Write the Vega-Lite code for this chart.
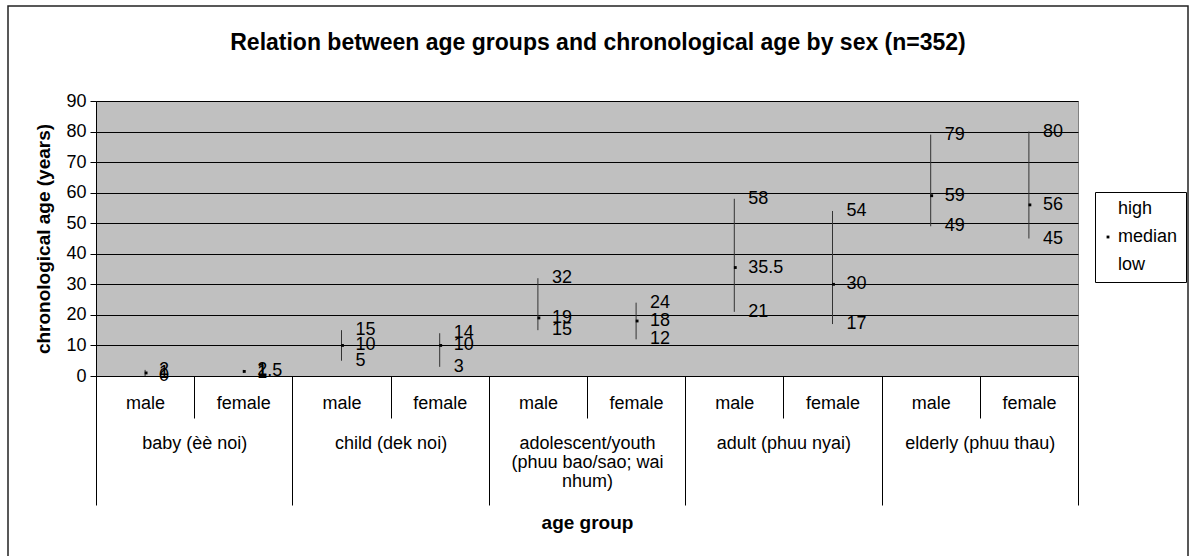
{
  "$schema": "https://vega.github.io/schema/vega-lite/v6.json",
  "width": 982,
  "height": 275,
  "autosize": {"type": "none"},
  "padding": {"left": 96, "top": 101, "right": 117, "bottom": 180},
  "background": "white",
  "title": {
    "text": "Relation between age groups and chronological age by sex (n=352)",
    "font": "Liberation Sans",
    "fontSize": 23,
    "fontWeight": "bold",
    "color": "black",
    "frame": "group",
    "anchor": "middle",
    "baseline": "middle",
    "dx": 11,
    "offset": -61
  },
  "data": {
    "values": [
      {"group": "baby (èè noi)", "cat": "1 male", "stat": "high", "value": 2},
      {"group": "baby (èè noi)", "cat": "1 male", "stat": "median", "value": 1},
      {"group": "baby (èè noi)", "cat": "1 male", "stat": "low", "value": 0},
      {"group": "baby (èè noi)", "cat": "1 female", "stat": "high", "value": 2},
      {"group": "baby (èè noi)", "cat": "1 female", "stat": "median", "value": 1.5},
      {"group": "baby (èè noi)", "cat": "1 female", "stat": "low", "value": 1},
      {"group": "child (dek noi)", "cat": "2 male", "stat": "high", "value": 15},
      {"group": "child (dek noi)", "cat": "2 male", "stat": "median", "value": 10},
      {"group": "child (dek noi)", "cat": "2 male", "stat": "low", "value": 5},
      {"group": "child (dek noi)", "cat": "2 female", "stat": "high", "value": 14},
      {"group": "child (dek noi)", "cat": "2 female", "stat": "median", "value": 10},
      {"group": "child (dek noi)", "cat": "2 female", "stat": "low", "value": 3},
      {"group": "adolescent/youth (phuu bao/sao; wai nhum)", "cat": "3 male", "stat": "high", "value": 32},
      {"group": "adolescent/youth (phuu bao/sao; wai nhum)", "cat": "3 male", "stat": "median", "value": 19},
      {"group": "adolescent/youth (phuu bao/sao; wai nhum)", "cat": "3 male", "stat": "low", "value": 15},
      {"group": "adolescent/youth (phuu bao/sao; wai nhum)", "cat": "3 female", "stat": "high", "value": 24},
      {"group": "adolescent/youth (phuu bao/sao; wai nhum)", "cat": "3 female", "stat": "median", "value": 18},
      {"group": "adolescent/youth (phuu bao/sao; wai nhum)", "cat": "3 female", "stat": "low", "value": 12},
      {"group": "adult (phuu nyai)", "cat": "4 male", "stat": "high", "value": 58},
      {"group": "adult (phuu nyai)", "cat": "4 male", "stat": "median", "value": 35.5},
      {"group": "adult (phuu nyai)", "cat": "4 male", "stat": "low", "value": 21},
      {"group": "adult (phuu nyai)", "cat": "4 female", "stat": "high", "value": 54},
      {"group": "adult (phuu nyai)", "cat": "4 female", "stat": "median", "value": 30},
      {"group": "adult (phuu nyai)", "cat": "4 female", "stat": "low", "value": 17},
      {"group": "elderly (phuu thau)", "cat": "5 male", "stat": "high", "value": 79},
      {"group": "elderly (phuu thau)", "cat": "5 male", "stat": "median", "value": 59},
      {"group": "elderly (phuu thau)", "cat": "5 male", "stat": "low", "value": 49},
      {"group": "elderly (phuu thau)", "cat": "5 female", "stat": "high", "value": 80},
      {"group": "elderly (phuu thau)", "cat": "5 female", "stat": "median", "value": 56},
      {"group": "elderly (phuu thau)", "cat": "5 female", "stat": "low", "value": 45}
    ]
  },
  "layer": [
    {
      "data": {"values": [{}]},
      "mark": {"type": "rect", "fill": null, "stroke": "#222222", "strokeWidth": 1.5},
      "encoding": {
        "x": {"value": -88},
        "x2": {"value": 1092},
        "y": {"value": -95},
        "y2": {"value": 470}
      }
    },
    {
      "layer": [
        {
          "mark": {"type": "rule", "color": "#333333", "strokeWidth": 1},
          "encoding": {
            "x": {
              "field": "cat",
              "type": "nominal",
              "sort": null,
              "scale": {"paddingInner": 0, "paddingOuter": 0},
              "axis": {
                "orient": "bottom",
                "title": null,
                "labelAngle": 0,
                "labelExpr": "split(datum.label, ' ')[1]",
                "tickBand": "extent",
                "tickSize": 42,
                "labelPadding": -24,
                "labelFont": "Liberation Sans",
                "labelFontSize": 18,
                "labelColor": "black",
                "tickColor": "black",
                "domainColor": "black",
                "grid": false
              }
            },
            "y": {
              "aggregate": "min",
              "field": "value",
              "type": "quantitative",
              "title": "chronological age (years)",
              "scale": {"domain": [0, 90], "nice": false}
            },
            "y2": {"aggregate": "max", "field": "value"}
          }
        },
        {
          "mark": {"type": "point", "filled": true, "color": "black", "size": 8, "opacity": 1, "xOffset": 1},
          "encoding": {
            "x": {"field": "cat", "type": "nominal", "sort": null},
            "y": {"field": "value", "type": "quantitative", "title": "chronological age (years)"},
            "shape": {
              "field": "stat",
              "type": "nominal",
              "scale": {"domain": ["high", "median", "low"], "range": ["M0,0", "square", "M0,0"]},
              "legend": {
                "title": null,
                "orient": "none",
                "legendX": 999,
                "legendY": 91,
                "strokeColor": "black",
                "fillColor": "white",
                "padding": 8,
                "rowPadding": 10,
                "labelFont": "Liberation Sans",
                "labelFontSize": 18,
                "labelColor": "black",
                "symbolSize": 8,
                "symbolFillColor": "black",
                "symbolStrokeWidth": 0,
                "labelOffset": 1,
                "symbolOffset": -4
              }
            }
          }
        },
        {
          "mark": {"type": "text", "align": "left", "baseline": "middle", "dx": 14, "font": "Liberation Sans", "fontSize": 18, "color": "black"},
          "encoding": {
            "x": {"field": "cat", "type": "nominal", "sort": null},
            "y": {"field": "value", "type": "quantitative", "title": "chronological age (years)"},
            "text": {"field": "value", "type": "quantitative"}
          }
        }
      ]
    },
    {
      "mark": {"type": "point", "opacity": 0},
      "encoding": {
        "x": {
          "field": "group",
          "type": "nominal",
          "sort": null,
          "scale": {"paddingInner": 0, "paddingOuter": 0},
          "axis": {
            "orient": "bottom",
            "title": "age group",
            "labelAngle": 0,
            "labelExpr": "datum.label == 'adolescent/youth (phuu bao/sao; wai nhum)' ? ['adolescent/youth', '(phuu bao/sao; wai', 'nhum)'] : datum.label",
            "labelLineHeight": 19,
            "tickBand": "extent",
            "tickSize": 129,
            "labelPadding": -71,
            "labelFont": "Liberation Sans",
            "labelFontSize": 18,
            "labelColor": "black",
            "labelLimit": 300,
            "tickColor": "black",
            "domain": false,
            "grid": false,
            "titleFont": "Liberation Sans",
            "titleFontSize": 19,
            "titleFontWeight": "bold",
            "titleColor": "black",
            "titlePadding": 8
          }
        },
        "y": {"field": "value", "type": "quantitative", "title": "chronological age (years)"}
      }
    }
  ],
  "resolve": {"scale": {"x": "independent"}},
  "config": {
    "view": {"fill": "#C0C0C0", "stroke": "#808080"},
    "axisY": {
      "tickCount": 10,
      "grid": true,
      "gridColor": "black",
      "gridOpacity": 1,
      "tickSize": 6,
      "tickColor": "black",
      "domainColor": "black",
      "labelFont": "Liberation Sans",
      "labelFontSize": 18,
      "labelColor": "black",
      "labelPadding": 4,
      "labelOverlap": false,
      "titleFont": "Liberation Sans",
      "titleFontSize": 19,
      "titleFontWeight": "bold",
      "titleColor": "black",
      "titlePadding": 12
    }
  }
}
